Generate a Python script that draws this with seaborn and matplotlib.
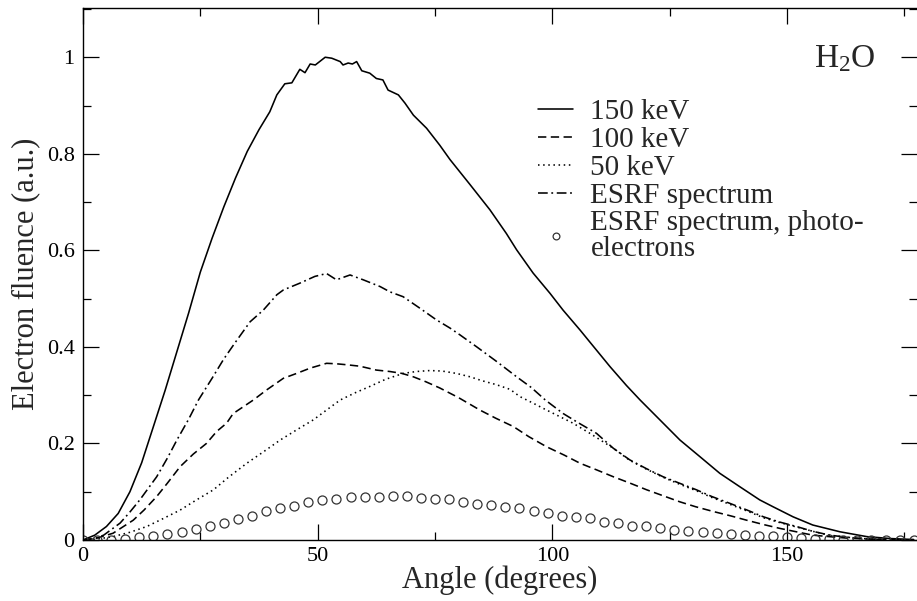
import matplotlib
matplotlib.use("Agg")
import matplotlib.pyplot as plt
import seaborn as sns
import numpy as np
from matplotlib.ticker import MultipleLocator, FuncFormatter

# ---------------- data ----------------
x150 = [0, 2.5, 5, 7.5, 10, 12.5, 15, 17.5, 20, 22.5, 25, 27.5, 30, 32.5, 35, 37.5, 39.8, 41.3, 43, 44.5,
        46.2, 47.3, 48.4, 49.5, 51.6, 53, 54.8, 55.4, 56.5, 57.4, 58.3, 59.4, 61.1, 62.5, 63.9, 65, 67.2,
        68.6, 70.4, 73.2, 76, 78.2, 82.4, 86.7, 90.2, 92.4, 95.9, 99.5, 102.3, 105.9, 108, 112.3, 115.8,
        118.7, 122.9, 127.2, 131.4, 135.7, 140, 144.2, 147, 151.3, 155.5, 161.3, 167, 172, 177]
y150 = [0, 0.01, 0.028, 0.055, 0.1, 0.16, 0.235, 0.31, 0.39, 0.47, 0.555, 0.625, 0.69, 0.75, 0.805, 0.85,
        0.887, 0.922, 0.945, 0.947, 0.975, 0.968, 0.986, 0.984, 1.0, 0.998, 0.991, 0.984, 0.988, 0.986,
        0.991, 0.972, 0.967, 0.956, 0.953, 0.932, 0.922, 0.905, 0.88, 0.853, 0.818, 0.788, 0.737, 0.684,
        0.635, 0.601, 0.553, 0.511, 0.476, 0.435, 0.41, 0.359, 0.32, 0.29, 0.249, 0.207, 0.173, 0.138,
        0.11, 0.083, 0.069, 0.048, 0.031, 0.017, 0.007, 0.003, 0.001]

x100 = [0, 3, 6.4, 10.7, 13, 15.7, 18, 20.7, 23.5, 26.3, 28.5, 30.6, 32, 34, 36.3, 39, 42.7, 45.5, 48.4,
        51.9, 54, 56.2, 59, 62.5, 65.4, 68, 70.4, 73, 76, 80, 84.6, 88, 91.7, 95, 98.8, 102.5, 105.9,
        109.5, 113, 116.5, 120.1, 123.5, 127.2, 130.5, 134.3, 138, 141.4, 145, 148.5, 152, 155.5, 159,
        162.6, 167, 172, 177]
y100 = [0, 0.004, 0.014, 0.041, 0.062, 0.09, 0.118, 0.152, 0.178, 0.2, 0.225, 0.242, 0.262, 0.275, 0.29,
        0.31, 0.335, 0.345, 0.356, 0.366, 0.365, 0.363, 0.36, 0.352, 0.349, 0.345, 0.338, 0.328, 0.315,
        0.295, 0.269, 0.252, 0.235, 0.214, 0.193, 0.176, 0.159, 0.145, 0.131, 0.118, 0.104, 0.092, 0.079,
        0.069, 0.059, 0.05, 0.041, 0.032, 0.024, 0.017, 0.01, 0.007, 0.004, 0.002, 0.001, 0]

x50 = [0, 3, 6.4, 10, 13.6, 17, 20.7, 24, 27.8, 31, 34.9, 38.5, 42, 45.5, 49.1, 52, 54.8, 58, 61.1, 64.5,
       68.2, 71, 73.9, 76.5, 79.6, 82.5, 85, 88, 91, 93.1, 96, 98.8, 101.5, 104.4, 108, 113, 116.5, 120,
       123.6, 127, 130.7, 134, 137.8, 141.5, 145, 148.5, 152, 155.5, 159, 162.5, 166, 170, 177]
y50 = [0, 0.002, 0.007, 0.016, 0.028, 0.044, 0.062, 0.082, 0.104, 0.13, 0.159, 0.183, 0.207, 0.228, 0.249,
       0.27, 0.29, 0.305, 0.318, 0.333, 0.345, 0.349, 0.351, 0.35, 0.345, 0.338, 0.33, 0.322, 0.312, 0.297,
       0.283, 0.269, 0.256, 0.242, 0.221, 0.19, 0.165, 0.147, 0.13, 0.116, 0.102, 0.088, 0.074, 0.06,
       0.046, 0.036, 0.027, 0.018, 0.01, 0.006, 0.003, 0.001, 0]

xesrf = [0, 2.5, 4.4, 7.9, 10, 12.1, 15.7, 18, 20, 22.5, 24.6, 27.5, 30, 32.5, 35.6, 38.4, 41.3, 42.7, 46.2,
         49.4, 51.9, 54, 56.9, 59.7, 63.3, 65.4, 68.2, 71.8, 75.3, 78.2, 80.3, 83.9, 88.1, 92.4, 95.5, 98.5,
         102.3, 105.5, 109.4, 113, 116.5, 120, 123.6, 127, 130.7, 134, 137.8, 141.5, 145, 148.5, 152, 155.5,
         159.1, 162.5, 166, 170, 177]
yesrf = [0, 0.003, 0.01, 0.035, 0.058, 0.083, 0.131, 0.17, 0.207, 0.25, 0.29, 0.335, 0.375, 0.41, 0.452,
         0.476, 0.508, 0.518, 0.532, 0.546, 0.552, 0.539, 0.549, 0.539, 0.525, 0.514, 0.504, 0.48, 0.456,
         0.439, 0.425, 0.4, 0.37, 0.338, 0.316, 0.29, 0.262, 0.243, 0.221, 0.19, 0.166, 0.148, 0.131, 0.118,
         0.104, 0.09, 0.076, 0.062, 0.048, 0.037, 0.028, 0.018, 0.01, 0.006, 0.003, 0.001, 0]

xphoto = [0, 3, 6, 9, 12, 15, 18, 21, 24, 27, 30, 33, 36, 39, 42, 45, 48, 51, 54, 57, 60, 63, 66, 69, 72,
          75, 78, 81, 84, 87, 90, 93, 96, 99, 102, 105, 108, 111, 114, 117, 120, 123, 126, 129, 132, 135,
          138, 141, 144, 147, 150, 153, 156, 159, 162, 165, 168, 171, 174, 177]
yphoto = [0, 0, 0, 0.003, 0.006, 0.008, 0.012, 0.017, 0.023, 0.029, 0.035, 0.043, 0.05, 0.06, 0.066, 0.07,
          0.078, 0.083, 0.084, 0.089, 0.09, 0.089, 0.092, 0.091, 0.086, 0.084, 0.085, 0.079, 0.075, 0.0725,
          0.068, 0.066, 0.061, 0.055, 0.05, 0.048, 0.045, 0.038, 0.035, 0.03, 0.028, 0.024, 0.021, 0.019,
          0.016, 0.014, 0.012, 0.01, 0.009, 0.008, 0.006, 0.004, 0.003, 0.002, 0.001, 0.001, 0.001, 0, 0, 0]

labels = ["150 keV", "100 keV", "50 keV", "ESRF spectrum", "ESRF spectrum, photo-\nelectrons"]
xticks_major = [0, 50, 100, 150]
yticks_major = [0, 0.2, 0.4, 0.6, 0.8, 1.0]

# ---------------- style ----------------
sns.set_theme(style="ticks")
plt.rcParams["font.family"] = ["Liberation Serif", "DejaVu Serif"]
plt.rcParams["mathtext.fontset"] = "custom"
plt.rcParams["mathtext.rm"] = "Liberation Serif"
plt.rcParams["mathtext.it"] = "Liberation Serif:italic"
plt.rcParams["lines.scale_dashes"] = False

W, H = 917, 601
fig = plt.figure(figsize=(W / 100, H / 100), dpi=100)
ax = fig.add_axes([83 / W, (H - 540) / H, (W - 83) / W, (540 - 8) / H])

lw = 1.15
sns.lineplot(x=x150, y=y150, ax=ax, color="black", lw=lw, linestyle="-", label=labels[0], sort=False)
sns.lineplot(x=x100, y=y100, ax=ax, color="black", lw=lw, linestyle=(0, (6, 3.2)), label=labels[1], sort=False)
sns.lineplot(x=x50, y=y50, ax=ax, color="black", lw=lw, linestyle=(0, (1.1, 2.6)), label=labels[2], sort=False)
sns.lineplot(x=xesrf, y=yesrf, ax=ax, color="black", lw=lw, linestyle=(0, (7, 2.6, 1.3, 2.6)),
             label=labels[3], sort=False)
sns.lineplot(x=xphoto, y=yphoto, ax=ax, color="#333333", linestyle="", marker="o", markersize=6.5,
             markerfacecolor="none", markeredgecolor="#333333", markeredgewidth=0.9,
             label=labels[4], sort=False)

ax.set_xlim(0, 177.7)
ax.set_ylim(0, 1.102)
ax.xaxis.set_major_locator(plt.FixedLocator(xticks_major))
ax.xaxis.set_minor_locator(MultipleLocator(25))
ax.yaxis.set_major_locator(plt.FixedLocator(yticks_major))
ax.yaxis.set_minor_locator(MultipleLocator(0.1))
ax.yaxis.set_major_formatter(FuncFormatter(lambda v, p: f"{v:g}"))
ax.xaxis.set_major_formatter(FuncFormatter(lambda v, p: f"{v:g}"))

for s in ["left", "bottom", "top"]:
    ax.spines[s].set_visible(True)
    ax.spines[s].set_color("black")
    ax.spines[s].set_linewidth(1.0)
ax.spines["right"].set_visible(False)

ax.tick_params(which="both", direction="in", top=True, right=True, colors="black",
               labelsize=16, width=0.9)
ax.tick_params(which="major", length=11.5)
ax.tick_params(which="minor", length=5.5)
ax.tick_params(axis="y", pad=6)
ax.tick_params(axis="x", pad=5)

ax.set_xlabel("Angle (degrees)", fontsize=22, labelpad=0)
ax.set_ylabel("Electron fluence (a.u.)", fontsize=22, labelpad=5)

leg = ax.legend(loc="upper left", bbox_to_anchor=(538 / W, (H - 99) / H), bbox_transform=fig.transFigure,
                frameon=False, fontsize=21, handlelength=1.2, handletextpad=0.6, labelspacing=0.05,
                borderpad=0, borderaxespad=0, markerscale=0.75)
for t in leg.get_texts():
    t.set_linespacing(0.95)

fig.text(876 / W, (H - 67) / H, r"$\mathrm{H_2O}$", fontsize=24, ha="right", va="baseline")

fig.savefig("out.png", dpi=100, facecolor="white")
